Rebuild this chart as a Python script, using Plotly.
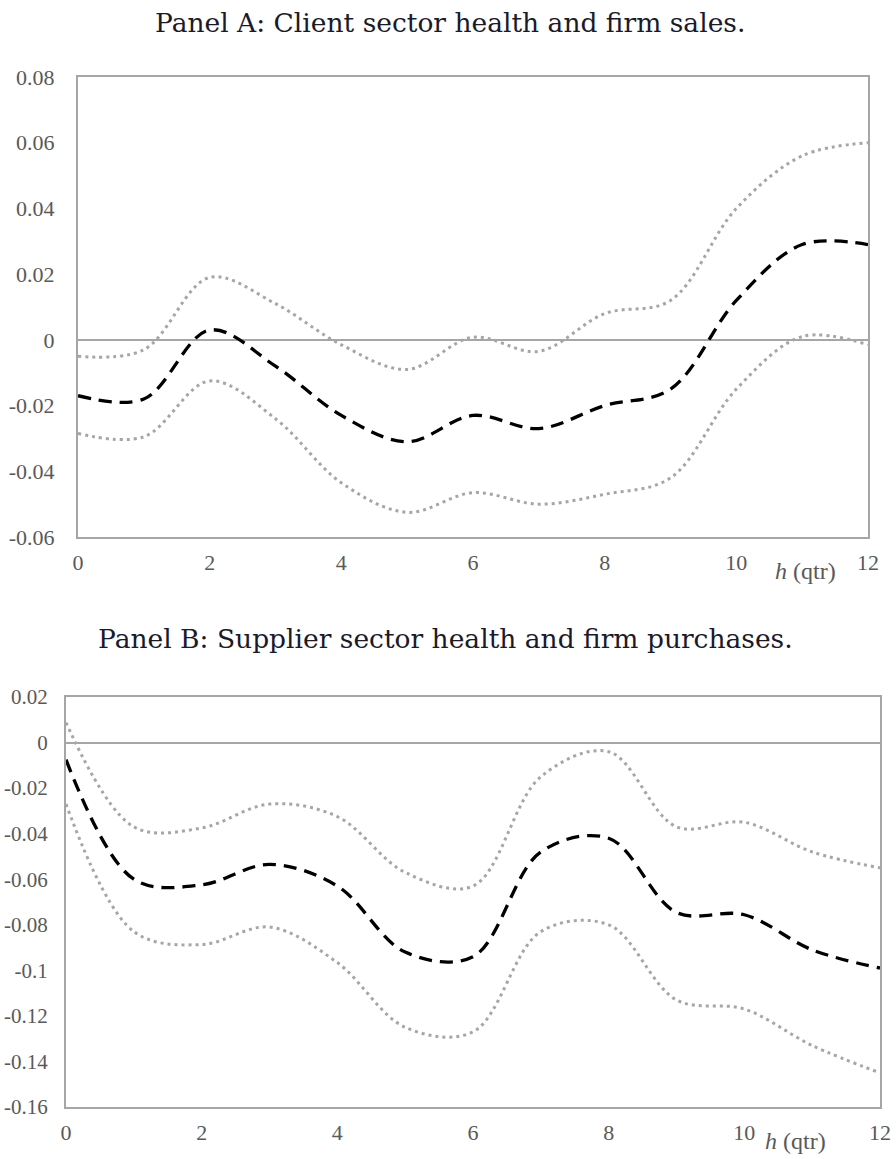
import plotly.graph_objects as go

h = list(range(13))

# Panel A: client sector health and firm sales
a_mid = [-0.017, -0.018, 0.003, -0.008, -0.023, -0.031, -0.023, -0.027, -0.020, -0.015, 0.012, 0.029, 0.029]
a_up = [-0.005, -0.003, 0.019, 0.011, -0.0015, -0.009, 0.0008, -0.0035, 0.008, 0.012, 0.040, 0.056, 0.060]
a_lo = [-0.0285, -0.0295, -0.0125, -0.024, -0.0435, -0.0525, -0.0465, -0.050, -0.047, -0.042, -0.015, 0.001, -0.0015]

# Panel B: supplier sector health and firm purchases
b_mid = [-0.0075, -0.060, -0.0625, -0.0535, -0.063, -0.092, -0.094, -0.048, -0.042, -0.0746, -0.0756, -0.091, -0.099]
b_up = [0.0088, -0.037, -0.0375, -0.027, -0.0325, -0.057, -0.063, -0.015, -0.004, -0.037, -0.035, -0.048, -0.055]
b_lo = [-0.027, -0.083, -0.0887, -0.081, -0.0966, -0.125, -0.127, -0.083, -0.080, -0.113, -0.117, -0.133, -0.145]

x_ticks = [0, 2, 4, 6, 8, 10, 12]
a_yticks = [0.08, 0.06, 0.04, 0.02, 0, -0.02, -0.04, -0.06]
a_yticktext = ["0.08", "0.06", "0.04", "0.02", "0", "-0.02", "-0.04", "-0.06"]
b_yticks = [0.02, 0, -0.02, -0.04, -0.06, -0.08, -0.1, -0.12, -0.14, -0.16]
b_yticktext = ["0.02", "0", "-0.02", "-0.04", "-0.06", "-0.08", "-0.1", "-0.12", "-0.14", "-0.16"]

title_a = "Panel A: Client sector health and firm sales."
title_b = "Panel B: Supplier sector health and firm purchases."

W, H = 896, 1159
TICK_FONT = dict(family="Liberation Serif", size=22, color="#595959")
TICK_FONT_B = dict(family="Liberation Serif", size=21, color="#595959")
FRAME = "#a6a6a6"
DOT = "#a6a6a6"

fig = go.Figure()

def add_panel(xa, ya, mid, up, lo):
    for ys, col, dash, w in [(up, DOT, "3px,4px", 3), (lo, DOT, "3px,4px", 3), (mid, "black", "13px,8px", 3.3)]:
        fig.add_trace(go.Scatter(x=h, y=ys, xaxis=xa, yaxis=ya, mode="lines",
                                 line=dict(color=col, dash=dash, width=w, shape="spline", smoothing=1.0),
                                 showlegend=False, hoverinfo="skip"))

add_panel("x", "y", a_mid, a_up, a_lo)
add_panel("x2", "y2", b_mid, b_up, b_lo)

def px(v):
    return v / W

def py(v):
    return 1 - v / H

common_x = dict(range=[0, 12], tickvals=x_ticks, ticks="", showgrid=False, zeroline=False,
                showline=True, linecolor=FRAME, linewidth=2, mirror=True, tickfont=TICK_FONT,
                ticklabelstandoff=5, automargin=False)
common_y = dict(ticks="", showgrid=False, zeroline=True, zerolinecolor=FRAME, zerolinewidth=2,
                showline=True, linecolor=FRAME, linewidth=2, mirror=True, automargin=False)

fig.update_layout(
    template="none",
    width=W, height=H, margin=dict(l=0, r=0, t=0, b=0, pad=0), autosize=False,
    paper_bgcolor="white", plot_bgcolor="white",
    xaxis=dict(domain=[px(78), px(868)], anchor="y", **common_x),
    yaxis=dict(domain=[py(537), py(77)], anchor="x", range=[-0.06, 0.08],
               tickvals=a_yticks, ticktext=a_yticktext, tickfont=TICK_FONT,
               ticklabelstandoff=17, **common_y),
    xaxis2=dict(domain=[px(66), px(880)], anchor="y2", **common_x),
    yaxis2=dict(domain=[py(1107), py(697)], anchor="x2", range=[-0.16, 0.02],
                tickvals=b_yticks, ticktext=b_yticktext, tickfont=TICK_FONT_B,
                ticklabelstandoff=12, **common_y),
)

TITLE_FONT = dict(family="DejaVu Serif", size=26.5, color="#1a1a2a")
fig.add_annotation(text=title_a, xref="paper", yref="paper", x=px(450), y=py(22),
                   xanchor="center", yanchor="middle", showarrow=False, font=TITLE_FONT)
fig.add_annotation(text=title_b, xref="paper", yref="paper", x=px(445), y=py(638),
                   xanchor="center", yanchor="middle", showarrow=False, font=TITLE_FONT)

LAB_FONT = dict(family="Liberation Serif", size=24, color="#595959")
fig.add_annotation(text="<i>h</i> (qtr)", xref="paper", yref="paper", x=px(805), y=py(571),
                   xanchor="center", yanchor="middle", showarrow=False, font=LAB_FONT)
fig.add_annotation(text="<i>h</i> (qtr)", xref="paper", yref="paper", x=px(795), y=py(1141),
                   xanchor="center", yanchor="middle", showarrow=False, font=LAB_FONT)

fig.write_html("out.html")
